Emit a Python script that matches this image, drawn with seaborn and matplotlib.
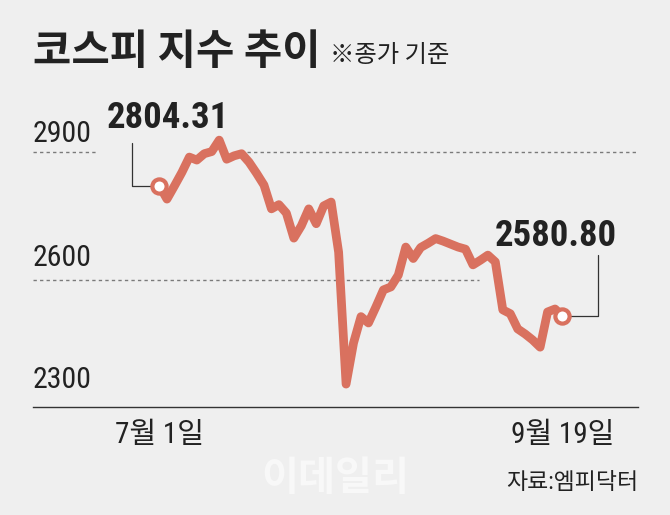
import numpy as np
import pandas as pd
import matplotlib
matplotlib.use("Agg")
import matplotlib.pyplot as plt
import matplotlib.transforms as mtransforms
from matplotlib import font_manager
import seaborn as sns

# ---------------- data ----------------
kospi_close = [2821, 2790, 2821, 2853, 2889, 2882, 2897, 2902, 2929, 2884,
               2892, 2897, 2877, 2851, 2823, 2767, 2777, 2757, 2698, 2727,
               2767, 2732, 2774, 2783, 2665, 2354, 2451, 2513, 2498, 2536,
               2576, 2583, 2611, 2677, 2650, 2676, 2686, 2697, 2691, 2684,
               2677, 2672, 2635, 2646, 2658, 2642, 2529, 2520, 2484, 2472,
               2458, 2441, 2524, 2531, 2514]
trading_day = list(range(len(kospi_close)))
start_label = "2804.31"
end_label = "2580.80"
x_tick_days = [0, 54]
x_tick_labels = ["7월 1일", "9월 19일"]
y_ticks = [2300, 2600, 2900]
title = "코스피 지수 추이"
subtitle = "※종가 기준"
source = "자료:엠피닥터"
watermark = "이데일리"

df = pd.DataFrame({"day": trading_day, "close": kospi_close})

# ---------------- style ----------------
W, H, DPI = 670, 515, 100
BG = "#EFEFEF"
LINE = "#D9715F"
DARK = "#222222"
AXC = "#333333"

sns.set_theme(style="white", rc={"axes.facecolor": BG, "figure.facecolor": BG})

# look for a condensed latin face; fall back to a regular one with smaller size
fl = font_manager.fontManager.ttflist
names = {f.name for f in fl}
NUM = None
STRETCH = "normal"
for cand in ["Liberation Sans Narrow", "DejaVu Sans Condensed", "Roboto Condensed",
             "Open Sans Condensed", "Noto Sans Condensed"]:
    if cand in names:
        NUM = cand
        break
if NUM is None:
    cond = [f for f in fl if f.name == "DejaVu Sans" and str(f.stretch) in ("condensed", "semi-condensed")]
    if cond:
        NUM = "DejaVu Sans"
        STRETCH = "condensed"
if NUM is None:
    NUM = "Liberation Sans"
    WIDE = 1.2      # regular width -> shrink font a bit
else:
    WIDE = 1.0
KR = "Noto Sans CJK KR"
plt.rcParams["font.family"] = [NUM, KR, "DejaVu Sans"]

def fs(v):
    return v / WIDE ** 0.6

fig = plt.figure(figsize=(W / DPI, H / DPI), dpi=DPI)
fig.patch.set_facecolor(BG)

ax_left, ax_right, ax_bottom, ax_top = 33, 638, 407, 110
ax = fig.add_axes([ax_left / W, 1 - ax_bottom / H,
                   (ax_right - ax_left) / W, (ax_bottom - ax_top) / H])
ax.set_facecolor(BG)

start_px, end_px = 159.5, 562.5
step = (end_px - start_px) / (len(kospi_close) - 1)
xl = ((ax_left - start_px) / step, (ax_right - start_px) / step)
ax.set_xlim(*xl)
ax.set_ylim(2300, 3000)

def px2x(p):
    return (p - start_px) / step

# dashed reference lines (interrupted like the reference)
dash = dict(colors="#7A7A7A", linewidth=1.0, linestyles=(0, (2.4, 2.3)), zorder=1)
ax.hlines(y_ticks[2], xl[0], px2x(98), **dash)
ax.hlines(y_ticks[2], px2x(247), xl[1], **dash)
ax.hlines(y_ticks[1], xl[0], px2x(479), **dash)

# main line
sns.lineplot(data=df, x="day", y="close", color=LINE, linewidth=6.3,
             solid_joinstyle="round", solid_capstyle="round", ax=ax, zorder=3)

# connectors
conn = dict(arrowstyle="-", color=AXC, lw=0.9, shrinkA=0, shrinkB=0,
            connectionstyle="angle,angleA=90,angleB=0,rad=0")
ax.annotate("", xy=(trading_day[0], kospi_close[0]), xytext=(-19.6, 31),
            textcoords="offset points", arrowprops=conn, zorder=2)
ax.annotate("", xy=(trading_day[-1], kospi_close[-1]), xytext=(25.8, 43.9),
            textcoords="offset points", arrowprops=conn, zorder=2)

# endpoint markers
ends = df.iloc[[0, -1]]
sns.scatterplot(data=ends, x="day", y="close", s=105, color="white",
                edgecolor=LINE, linewidth=3.0, ax=ax, zorder=5)

num_font = dict(family=[NUM, KR], fontstretch=STRETCH)

# endpoint value labels
lab = dict(textcoords="offset points", ha="center", va="baseline",
           fontsize=fs(26.5), fontweight="bold", color=DARK, **num_font)
ax.annotate(start_label, xy=(trading_day[0], kospi_close[0]), xytext=(5.8, 41.8), **lab)
ax.annotate(end_label, xy=(trading_day[-1], kospi_close[-1]), xytext=(-5.0, 50.4), **lab)

# axes styling
for s in ["top", "right", "left"]:
    ax.spines[s].set_visible(False)
ax.spines["bottom"].set_color(AXC)
ax.spines["bottom"].set_linewidth(1.0)
ax.set_xlabel("")
ax.set_ylabel("")
ax.grid(False)

ax.set_xticks(x_tick_days)
ax.set_xticklabels(x_tick_labels, fontsize=21, color=DARK, **num_font)
ax.tick_params(axis="x", direction="in", length=8.6, width=0.9, color=AXC, pad=10)

ax.set_yticks(y_ticks)
ax.set_yticklabels([str(v) for v in y_ticks], fontsize=fs(21.5), color=DARK, **num_font)
ax.tick_params(axis="y", length=0, pad=0)
for t, off in zip(ax.get_yticklabels(), [19.5, 13.3, 10.7]):
    t.set_ha("left")
    t.set_va("baseline")
    t.set_transform(t.get_transform() +
                    mtransforms.ScaledTranslation(0, off / DPI, fig.dpi_scale_trans))

# titles and footer
fig.text(33 / W, 1 - 64 / H, title, fontsize=30, fontweight="bold", color=DARK,
         family=[KR], ha="left", va="baseline")
fig.text(330 / W, 1 - 61.5 / H, subtitle, fontsize=17.5, color=DARK,
         family=[KR], ha="left", va="baseline")
fig.text(335 / W, 1 - 490 / H, watermark, fontsize=29, fontweight="bold",
         color="#F8F8F8", family=[KR], ha="center", va="baseline")
fig.text(638 / W, 1 - 489 / H, source, fontsize=16.5, color=DARK,
         family=[NUM, KR], fontstretch=STRETCH, ha="right", va="baseline")

fig.savefig("out.png", dpi=DPI, facecolor=BG)
